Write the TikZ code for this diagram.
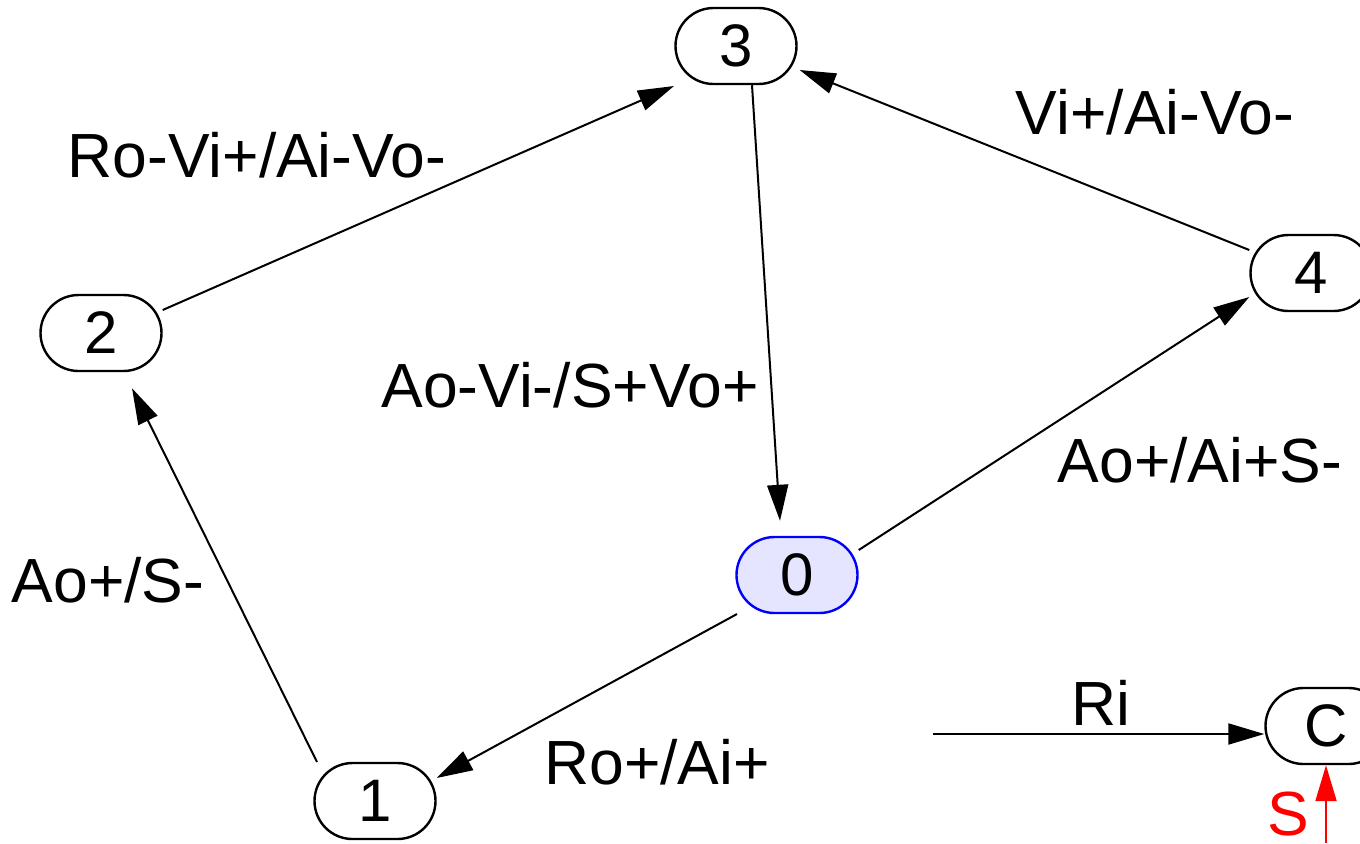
\documentclass[tikz,border=0pt]{standalone}
\usepackage{fontspec}
\setmainfont{Liberation Sans}
\usetikzlibrary{shapes.misc,arrows.meta}

\tikzset{
  state/.style={rounded rectangle,draw,line width=1.2pt,minimum width=60.5pt,
    minimum height=38pt,inner sep=0pt,font=\fontsize{30}{36}\selectfont},
  initstate/.style={state,draw=blue,fill=blue!10},
  trans/.style={-{Triangle[length=18pt,width=10.5pt]},line width=1pt},
  lbl/.style={font=\fontsize{31.2}{36}\selectfont,inner sep=0pt}
}

\begin{document}
\begin{tikzpicture}[x=0.5pt,y=-0.5pt]
  \useasboundingbox (0,0) rectangle (1360,843);

  \node[state] (s3) at (736,46) {3};
  \node[state] (s2) at (101,333) {2};
  \node[state] (s4) at (1311,273) {4};
  \node[initstate] (s0) at (797,575) {0};
  \node[state] (s1) at (375,801) {1};
  \node[state] (sC) at (1326,726) {C};
  \coordinate (ri) at (933,734);
  \coordinate (sin) at (1326,843);

  \draw[trans] ([yshift=11.5pt]s2.east) -- ([xshift=-31pt,yshift=-20pt]s3.center);
  \draw[trans] ([xshift=8pt]s3.south) -- ([xshift=-8.5pt,yshift=7.5pt]s0.north);
  \draw[trans] ([yshift=11.5pt]s4.west) -- ([xshift=1pt,yshift=-12pt]s3.east);
  \draw[trans] ([yshift=12.5pt]s0.east) -- ([yshift=-12pt]s4.west);
  \draw[trans] ([xshift=-30pt,yshift=-19.5pt]s0.center) -- ([yshift=11.5pt]s1.east);
  \draw[trans] ([xshift=-29pt,yshift=19.5pt]s1.center) -- ([xshift=15.5pt,yshift=-8pt]s2.south);
  \draw[trans] (ri) -- ([yshift=-4pt]sC.west);
  \draw[trans,red] (sin) -- (sC.south);

  % transition labels
  \node[lbl] (l23) at (257,155) {Ro-Vi+/Ai-Vo-};
  \node[lbl] (l43) at (1155,112) {Vi+/Ai-Vo-};
  \node[lbl] (l30) at (570,385) {Ao-Vi-/S+Vo+};
  \node[lbl] (l04) at (1200,460) {Ao+/Ai+S-};
  \node[lbl] (l12) at (108,580) {Ao+/S-};
  \node[lbl] (l01) at (657,762) {Ro+/Ai+};
  \node[lbl] (lri) at (1101,703) {Ri};
  \node[lbl,red] (ls) at (1288,814) {S};
\end{tikzpicture}
\end{document}
